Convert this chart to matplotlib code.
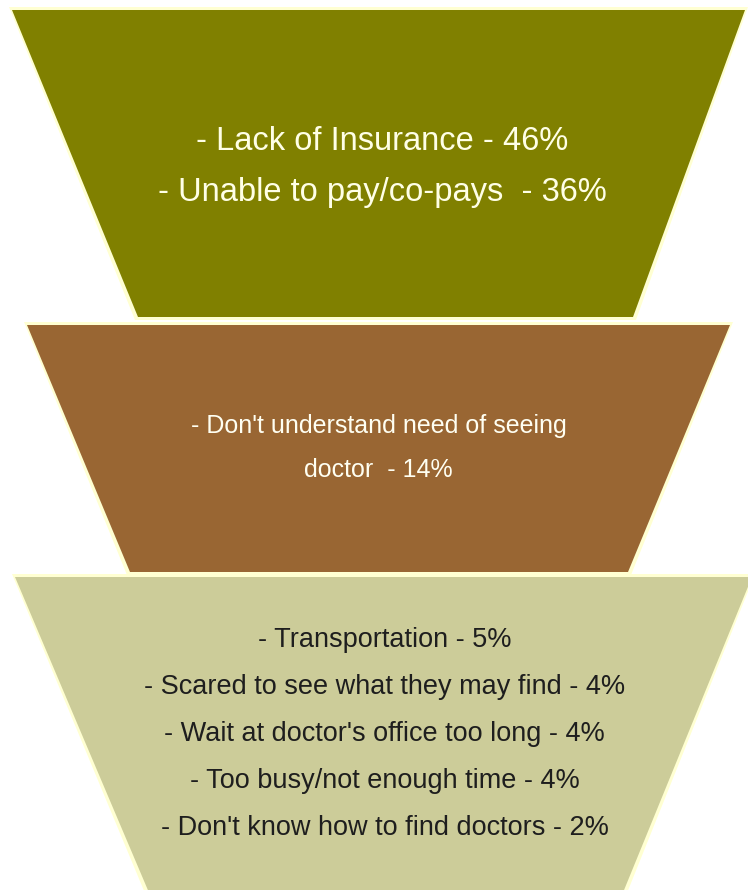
import matplotlib
matplotlib.use("Agg")
import matplotlib.pyplot as plt
from matplotlib.patches import Polygon

plt.rcParams['font.family'] = ['Liberation Sans', 'DejaVu Sans']

# Barriers to seeing a doctor, grouped into three funnel stages
stage_names = ["Financial", "Awareness", "Access"]
stage_reasons = [
    ["Lack of Insurance", "Unable to pay/co-pays "],
    ["Don't understand need of seeing\ndoctor "],
    ["Transportation", "Scared to see what they may find",
     "Wait at doctor's office too long", "Too busy/not enough time",
     "Don't know how to find doctors"],
]
stage_percents = [
    [46, 36],
    [14],
    [5, 4, 4, 4, 2],
]
stage_colors = ["#808000", "#996633", "#CCCC99"]
text_colors = ["#FFFFE6", "#FFFFF2", "#1E1E1E"]

W, H = 748, 890
fig = plt.figure(figsize=(W / 100, H / 100), dpi=100)
ax = fig.add_axes([0, 0, 1, 1])
ax.set_xlim(0, W)
ax.set_ylim(H, 0)
ax.axis("off")

# funnel band outlines: (y_top, y_bottom, top_left, top_right, bottom_left, bottom_right)
bands = [
    (10, 317, 12, 745, 138, 633),
    (325, 572, 27, 730, 130, 628),
    (577, 895, 15, 752, 150, 622),
]
# text layout per band: (first line centre y, line spacing, font size)
text_layout = [
    (141, 52, 23.5),
    (426, 44, 18),
    (640, 47, 19.5),
]

for i, (yt, yb, tl, tr, bl, br) in enumerate(bands):
    # pale cream rim around each band
    rim = Polygon([(tl - 3, yt - 3), (tr + 3, yt - 3), (br + 3, yb + 3), (bl - 3, yb + 3)],
                  closed=True, facecolor="#FFFFD2", edgecolor="none", zorder=1)
    ax.add_patch(rim)
    poly = Polygon([(tl, yt), (tr, yt), (br, yb), (bl, yb)], closed=True,
                   facecolor=stage_colors[i], edgecolor="none", zorder=2)
    ax.add_patch(poly)

    y, dy, fs = text_layout[i]
    cx = (tl + tr + bl + br) / 4
    for reason, pct in zip(stage_reasons[i], stage_percents[i]):
        label = f"- {reason} - {pct}%"
        for line in label.split("\n"):
            ax.text(cx, y, line, ha="center", va="center",
                    fontsize=fs, color=text_colors[i], zorder=3)
            y += dy

fig.savefig("out.png", dpi=100)
